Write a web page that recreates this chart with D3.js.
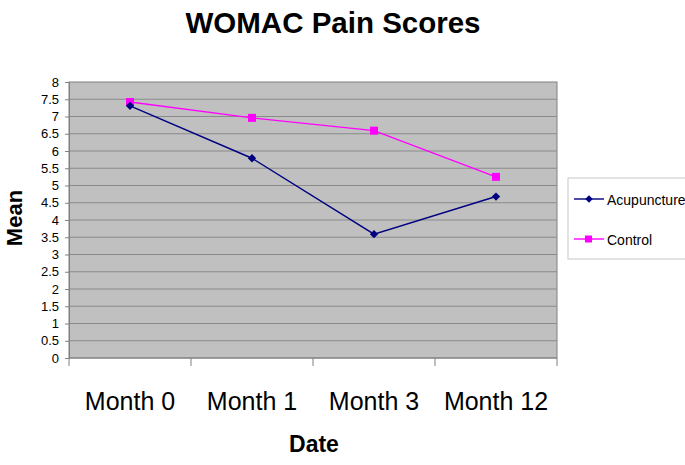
<!DOCTYPE html>
<html>
<head>
<meta charset="utf-8">
<script src="https://cdn.jsdelivr.net/npm/d3@7"></script>
<style>
  body { margin: 0; background: #fff; }
  svg { font-family: Arial, "Liberation Sans", sans-serif; }
</style>
</head>
<body>
<svg id="chart"></svg>
<script>
let categories = ["Month 0", "Month 1", "Month 3", "Month 12"];
let acupuncture = [7.31, 5.79, 3.59, 4.68];
let control = [7.42, 6.96, 6.59, 5.25];
let yTicks = [0, 0.5, 1, 1.5, 2, 2.5, 3, 3.5, 4, 4.5, 5, 5.5, 6, 6.5, 7, 7.5, 8];

let width = 685;
let height = 465;
let svg = d3.select("#chart").attr("width", width).attr("height", height);

let margin = { left: 69, right: 128, top: 82, bottom: 107 };
let plotW = width - margin.left - margin.right;
let plotH = height - margin.top - margin.bottom;

let x = d3.scaleBand().domain(categories).range([0, plotW]);
let y = d3.scaleLinear().domain([0, 8]).range([plotH, 0]);

let g = svg.append("g").attr("transform", `translate(${margin.left},${margin.top})`);

// plot area
g.append("rect")
  .attr("width", plotW)
  .attr("height", plotH)
  .attr("fill", "#c0c0c0")
  .attr("stroke", "#808080")
  .attr("stroke-width", 1);

// gridlines
g.selectAll(".grid")
  .data(yTicks.slice(1, -1))
  .enter()
  .append("line")
  .attr("x1", 0)
  .attr("x2", plotW)
  .attr("y1", d => y(d))
  .attr("y2", d => y(d))
  .attr("stroke", "#8a8a8a")
  .attr("stroke-width", 1);

// y axis
let yAxis = g.append("g")
  .call(d3.axisLeft(y).tickValues(yTicks).tickSize(4).tickPadding(6).tickFormat(d => d));
yAxis.select(".domain").attr("stroke", "#808080");
yAxis.selectAll(".tick line").attr("stroke", "#808080");
yAxis.selectAll("text").style("font-size", "13px").attr("fill", "#000");

// x axis: ticks between categories
let xAxis = g.append("g").attr("transform", `translate(0,${plotH})`);
xAxis.append("line").attr("x1", 0).attr("x2", plotW).attr("stroke", "#808080");
xAxis.selectAll(".xt")
  .data(d3.range(categories.length + 1))
  .enter()
  .append("line")
  .attr("x1", i => i * x.step())
  .attr("x2", i => i * x.step())
  .attr("y1", 0)
  .attr("y2", 8)
  .attr("stroke", "#808080");
xAxis.selectAll(".xl")
  .data(categories)
  .enter()
  .append("text")
  .attr("x", d => x(d) + x.bandwidth() / 2)
  .attr("y", 52)
  .attr("text-anchor", "middle")
  .style("font-size", "25px")
  .text(d => d);

// lines
let line = d3.line()
  .x((d, i) => x(categories[i]) + x.bandwidth() / 2)
  .y(d => y(d));

g.append("path").datum(control)
  .attr("d", line).attr("fill", "none").attr("stroke", "#ff00ff").attr("stroke-width", 1.4);
g.append("path").datum(acupuncture)
  .attr("d", line).attr("fill", "none").attr("stroke", "#000080").attr("stroke-width", 1.4);

g.selectAll(".ctl")
  .data(control)
  .enter()
  .append("rect")
  .attr("x", (d, i) => x(categories[i]) + x.bandwidth() / 2 - 4)
  .attr("y", d => y(d) - 4)
  .attr("width", 8)
  .attr("height", 8)
  .attr("fill", "#ff00ff");

let diamond = d3.symbol().type(d3.symbolDiamond2).size(44);
g.selectAll(".acu")
  .data(acupuncture)
  .enter()
  .append("path")
  .attr("d", diamond)
  .attr("transform", (d, i) => `translate(${x(categories[i]) + x.bandwidth() / 2},${y(d)})`)
  .attr("fill", "#000080");

// titles
svg.append("text")
  .attr("x", 333).attr("y", 33)
  .attr("text-anchor", "middle")
  .style("font-size", "29.5px").style("font-weight", "bold")
  .text("WOMAC Pain Scores");

svg.append("text")
  .attr("x", margin.left + plotW / 2 + 1).attr("y", 452)
  .attr("text-anchor", "middle")
  .style("font-size", "23px").style("font-weight", "bold")
  .text("Date");

svg.append("text")
  .attr("transform", `translate(22,${margin.top + plotH / 2 - 2}) rotate(-90)`)
  .attr("text-anchor", "middle")
  .style("font-size", "22px").style("font-weight", "bold")
  .text("Mean");

// legend
let legend = svg.append("g").attr("transform", "translate(568,178)");
legend.append("rect")
  .attr("width", 130).attr("height", 81)
  .attr("fill", "#fff").attr("stroke", "#c8c8c8");

let series = [
  { name: "Acupuncture", color: "#000080", marker: "diamond" },
  { name: "Control", color: "#ff00ff", marker: "square" }
];
let item = legend.selectAll(".item")
  .data(series)
  .enter()
  .append("g")
  .attr("transform", (d, i) => `translate(0,${21 + i * 40})`);
item.append("line")
  .attr("x1", 6).attr("x2", 36)
  .attr("stroke", d => d.color).attr("stroke-width", 1.4);
item.each(function (d) {
  let s = d3.select(this);
  if (d.marker === "square") {
    s.append("rect").attr("x", 17).attr("y", -3.5).attr("width", 7).attr("height", 7).attr("fill", d.color);
  } else {
    s.append("path").attr("d", d3.symbol().type(d3.symbolDiamond2).size(36)).attr("transform", "translate(21,0)").attr("fill", d.color);
  }
});
item.append("text")
  .attr("x", 39).attr("y", 5.5)
  .style("font-size", "14px")
  .text(d => d.name);
</script>
</body>
</html>
